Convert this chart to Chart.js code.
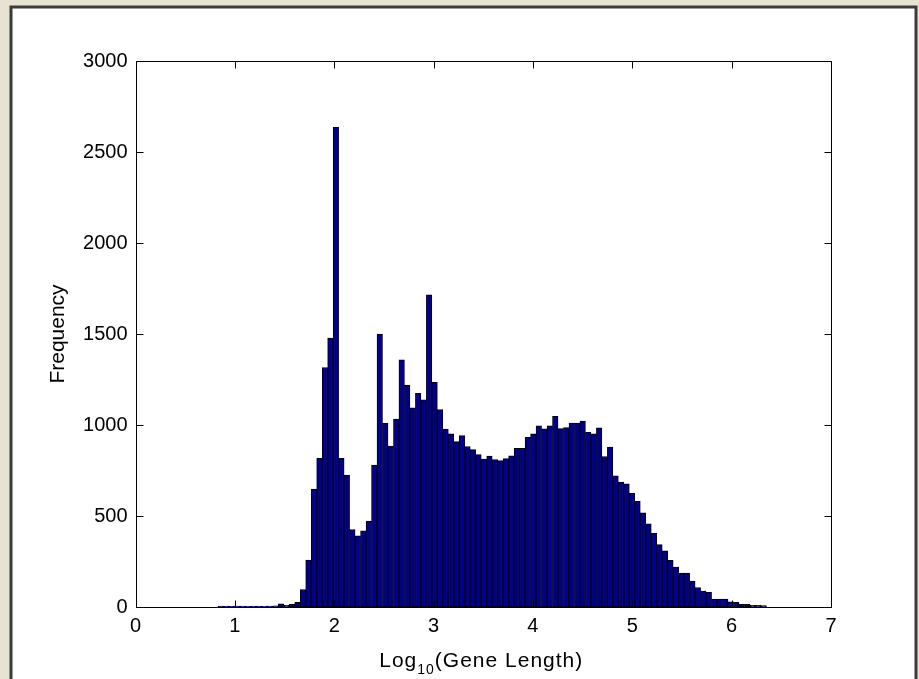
<!DOCTYPE html>
<html>
<head>
<meta charset="utf-8">
<script src="https://cdn.jsdelivr.net/npm/chart.js@4.4.1/dist/chart.umd.min.js"></script>
<style>
  html, body { margin: 0; padding: 0; background: #e8e2d2; }
  #wrap { width: 919px; height: 679px; }
</style>
</head>
<body>
<div id="wrap"><canvas id="histChart" width="919" height="679"></canvas></div>
<script>
// Histogram of log10(gene length), 100 equal bins between binMin and binMax
const binMin = 0.830;
const binMax = 6.350;
const counts = [
  5, 5, 4, 5, 5, 4, 5, 5, 4, 5, 6,
  18, 9, 15, 25, 96, 258, 648, 817, 1316,
  1477, 2635, 817, 725, 426, 391, 418, 472, 780, 1500,
  1009, 884, 1033, 1358, 1220, 1095, 1174, 1138, 1715, 1235,
  1085, 978, 952, 909, 942, 882, 865, 837, 813, 829,
  810, 804, 815, 830, 872, 872, 932, 951, 995, 979,
  995, 1048, 980, 986, 1011, 1011, 1021, 960, 951, 985,
  827, 879, 721, 687, 677, 625, 580, 518, 457, 405,
  343, 308, 256, 220, 187, 186, 143, 107, 87, 80,
  44, 44, 44, 29, 25, 15, 15, 9, 9, 8
];
const xTicks = [0, 1, 2, 3, 4, 5, 6, 7];
const yTicks = [0, 500, 1000, 1500, 2000, 2500, 3000];

const binWidth = (binMax - binMin) / counts.length;
const points = counts.map((c, i) => ({ x: binMin + (i + 0.5) * binWidth, y: c }));

const FONT = '"Liberation Sans", Arial, sans-serif';

// beige page + white framed panel
const panelBg = {
  id: 'panelBg',
  beforeDraw(chart) {
    const ctx = chart.ctx;
    ctx.save();
    ctx.fillStyle = '#e8e2d2';
    ctx.fillRect(0, 0, chart.width, chart.height);
    ctx.fillStyle = '#ffffff';
    ctx.fillRect(11, 7, 905, 700);
    ctx.strokeStyle = '#3b3b3b';
    ctx.lineWidth = 3;
    ctx.strokeRect(11, 7, 905, 700);
    ctx.restore();
  }
};

// matlab style box with inward ticks on all four sides, plus axis titles
const axisBox = {
  id: 'axisBox',
  afterDraw(chart) {
    const { ctx, chartArea: a, scales } = chart;
    const L = Math.round(a.left) + 0.5, R = Math.round(a.right) + 0.5;
    const T = Math.round(a.top) + 0.5, B = Math.round(a.bottom) + 0.5;
    const len = 7;
    ctx.save();
    ctx.strokeStyle = '#000';
    ctx.lineWidth = 1;
    ctx.beginPath();
    ctx.rect(L, T, R - L, B - T);
    xTicks.forEach(v => {
      const px = Math.round(scales.x.getPixelForValue(v)) + 0.5;
      ctx.moveTo(px, B); ctx.lineTo(px, B - len);
      ctx.moveTo(px, T); ctx.lineTo(px, T + len);
    });
    yTicks.forEach(v => {
      const py = Math.round(scales.y.getPixelForValue(v)) + 0.5;
      ctx.moveTo(L, py); ctx.lineTo(L + len, py);
      ctx.moveTo(R, py); ctx.lineTo(R - len, py);
    });
    ctx.stroke();

    ctx.fillStyle = '#000';

    // y axis title
    ctx.save();
    ctx.font = '21px ' + FONT;
    ctx.textAlign = 'center';
    ctx.textBaseline = 'middle';
    ctx.translate(58, (a.top + a.bottom) / 2);
    ctx.rotate(-Math.PI / 2);
    ctx.fillText('Frequency', 0, 0);
    ctx.restore();

    // x axis title: Log10(Gene Length)
    const big = '21px ' + FONT, small = '14px ' + FONT;
    ctx.textBaseline = 'alphabetic';
    ctx.textAlign = 'left';
    ctx.letterSpacing = '1px';
    ctx.font = big;
    const w1 = ctx.measureText('Log').width;
    const w3 = ctx.measureText('(Gene Length)').width;
    ctx.font = small;
    const w2 = ctx.measureText('10').width;
    const cx = (a.left + a.right) / 2 - 2;
    let x = cx - (w1 + w2 + w3) / 2;
    const base = 667;
    ctx.font = big;
    ctx.fillText('Log', x, base); x += w1;
    ctx.font = small;
    ctx.fillText('10', x, base + 7); x += w2;
    ctx.font = big;
    ctx.fillText('(Gene Length)', x, base);
    ctx.restore();
  }
};

new Chart(document.getElementById('histChart'), {
  type: 'bar',
  data: {
    datasets: [{
      label: 'Frequency',
      data: points,
      backgroundColor: '#00008c',
      borderColor: '#000000',
      borderWidth: 1,
      borderSkipped: false,
      barPercentage: 1.0,
      categoryPercentage: 1.0
    }]
  },
  options: {
    responsive: false,
    animation: false,
    layout: { padding: { left: 0, right: 88, top: 61, bottom: 0 } },
    plugins: {
      legend: { display: false },
      tooltip: { enabled: false }
    },
    scales: {
      x: {
        type: 'linear',
        min: 0,
        max: 7,
        offset: false,
        afterFit: s => { s.height = 72; },
        afterBuildTicks: s => { s.ticks = xTicks.map(v => ({ value: v })); },
        grid: { display: false, drawTicks: false, offset: false },
        border: { display: false },
        ticks: { color: '#000', padding: 7, maxRotation: 0, font: { family: FONT, size: 20 } }
      },
      y: {
        min: 0,
        max: 3000,
        afterFit: s => { s.width = 135.5; },
        afterBuildTicks: s => { s.ticks = yTicks.map(v => ({ value: v })); },
        grid: { display: false, drawTicks: false },
        border: { display: false },
        ticks: {
          color: '#000',
          padding: 8,
          font: { family: FONT, size: 20 },
          callback: v => String(v)
        }
      }
    }
  },
  plugins: [panelBg, axisBox]
});
</script>
</body>
</html>
